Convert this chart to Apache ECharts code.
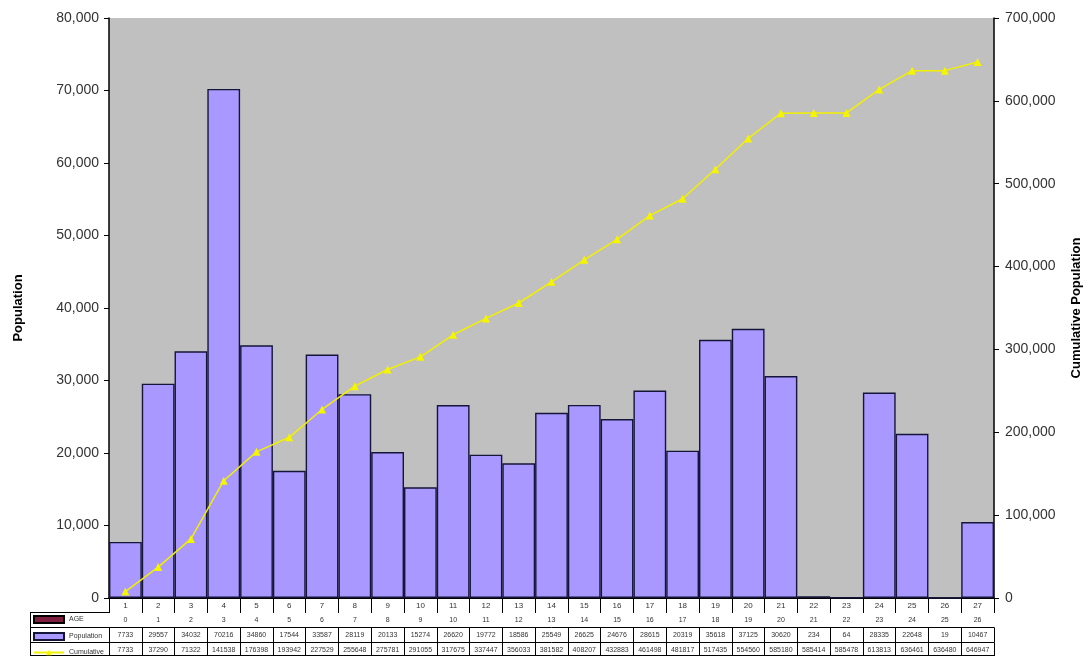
<!DOCTYPE html>
<html>
<head>
<meta charset="utf-8">
<script src="https://cdn.jsdelivr.net/npm/echarts@6/dist/echarts.min.js"></script>
<style>
html,body{margin:0;padding:0;background:#fff;}
#main{width:1084px;height:656px;}
</style>
</head>
<body>
<div id="main"></div>
<script>
const categories = [1,2,3,4,5,6,7,8,9,10,11,12,13,14,15,16,17,18,19,20,21,22,23,24,25,26,27];
const ages = [0,1,2,3,4,5,6,7,8,9,10,11,12,13,14,15,16,17,18,19,20,21,22,23,24,25,26];
const population = [7733,29557,34032,70216,34860,17544,33587,28119,20133,15274,26620,19772,18586,25549,26625,24676,28615,20319,35618,37125,30620,234,64,28335,22648,19,10467];
const cumulative = [7733,37290,71322,141538,176398,193942,227529,255648,275781,291055,317675,337447,356033,381582,408207,432883,461498,481817,517435,554560,585180,585414,585478,613813,636461,636480,646947];
const leftTicks = {min:0, max:80000, interval:10000};
const rightTicks = {min:0, max:700000, interval:100000};

const FONT = "'Liberation Sans', Arial, sans-serif";
const fmt = v => Number(v).toLocaleString('en-US');
const chart = echarts.init(document.getElementById('main'));

function tableAxis(data, offset, showTicks) {
  return {
    type: 'category', data: data, gridIndex: 0, position: 'bottom', offset: offset,
    boundaryGap: true,
    axisLine: {show: true, lineStyle: {color: '#000', width: 1}},
    axisTick: {show: showTicks, interval: 0, length: 15, lineStyle: {color: '#000', width: 1}},
    axisLabel: {show: showTicks, interval: 0, fontSize: 7, margin: 4, color: '#333', fontFamily: FONT},
    splitLine: {show: false}
  };
}

const option = {
  animation: false,
  textStyle: {fontFamily: FONT},
  grid: {left: 109, right: 90, top: 18, bottom: 58, show: true, backgroundColor: '#c0c0c0', borderWidth: 0,
         containLabel: false, outerBoundsMode: 'none'},
  legend: {
    orient: 'vertical', left: 33, top: 615, itemWidth: 30, itemHeight: 7, itemGap: 8,
    selectedMode: false, padding: 0,
    textStyle: {fontSize: 7, color: '#333', fontFamily: FONT},
    data: [{name: 'AGE', icon: 'rect'}, {name: 'Population', icon: 'rect'}, {name: 'Cumulative'}]
  },
  xAxis: [
    {
      type: 'category', data: categories, boundaryGap: true, position: 'bottom',
      axisLine: {show: true, lineStyle: {color: '#000', width: 1.5}},
      axisTick: {show: true, interval: 0, length: 14.5, lineStyle: {color: '#000', width: 1}},
      axisLabel: {interval: 0, fontSize: 8, margin: 4, color: '#333', fontFamily: FONT},
      splitLine: {show: false}
    },
    tableAxis(ages, 14.5, true),
    tableAxis(population.map(String), 29.5, true),
    tableAxis(cumulative.map(String), 44.5, true),
    tableAxis(categories, 57.5, false)
  ],
  yAxis: [
    {
      type: 'value', position: 'left', min: leftTicks.min, max: leftTicks.max, interval: leftTicks.interval,
      name: 'Population', nameLocation: 'middle', nameRotate: 90, nameGap: 84,
      nameTextStyle: {fontSize: 13, fontWeight: 'bold', color: '#000', fontFamily: FONT},
      axisLine: {show: true, lineStyle: {color: '#000', width: 1.5}},
      axisTick: {show: true, length: 5, lineStyle: {color: '#000'}},
      axisLabel: {fontSize: 14, color: '#333', margin: 10, formatter: fmt, fontFamily: FONT},
      splitLine: {show: false}
    },
    {
      type: 'value', position: 'right', min: rightTicks.min, max: rightTicks.max, interval: rightTicks.interval,
      name: 'Cumulative Population', nameLocation: 'middle', nameRotate: 90, nameGap: 76,
      nameTextStyle: {fontSize: 13, fontWeight: 'bold', color: '#000', fontFamily: FONT},
      axisLine: {show: true, lineStyle: {color: '#000', width: 1.5}},
      axisTick: {show: true, length: 5, lineStyle: {color: '#000'}},
      axisLabel: {fontSize: 14, color: '#333', margin: 11, formatter: fmt, fontFamily: FONT},
      splitLine: {show: false}
    }
  ],
  graphic: [
    {type: 'line', shape: {x1: 30, y1: 612.5, x2: 109, y2: 612.5}, style: {stroke: '#000', lineWidth: 1}},
    {type: 'line', shape: {x1: 30, y1: 627.5, x2: 109, y2: 627.5}, style: {stroke: '#000', lineWidth: 1}},
    {type: 'line', shape: {x1: 30, y1: 642.5, x2: 109, y2: 642.5}, style: {stroke: '#000', lineWidth: 1}},
    {type: 'line', shape: {x1: 30, y1: 655.5, x2: 109, y2: 655.5}, style: {stroke: '#000', lineWidth: 1}},
    {type: 'line', shape: {x1: 30.5, y1: 612.5, x2: 30.5, y2: 656}, style: {stroke: '#000', lineWidth: 1}}
  ],
  series: [
    {
      name: 'AGE', type: 'bar', xAxisIndex: 1, yAxisIndex: 0, data: [],
      itemStyle: {color: '#7f1f3f', borderColor: '#000', borderWidth: 1}
    },
    {
      name: 'Population', type: 'bar', xAxisIndex: 0, yAxisIndex: 0, data: population,
      barCategoryGap: '0%',
      itemStyle: {color: '#a898ff', borderColor: '#15153a', borderWidth: 1.4}
    },
    {
      name: 'Cumulative', type: 'line', xAxisIndex: 0, yAxisIndex: 1, data: cumulative,
      symbol: 'triangle', symbolSize: 8,
      lineStyle: {color: '#f2f000', width: 1.5},
      itemStyle: {color: '#f5f500'}
    }
  ]
};
chart.setOption(option);
</script>
</body>
</html>
